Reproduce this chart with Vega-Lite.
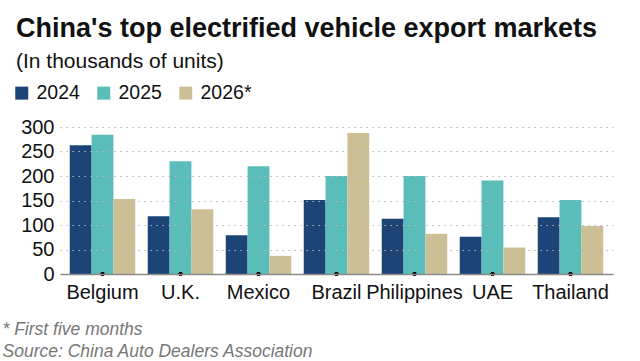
{
  "$schema": "https://vega.github.io/schema/vega-lite/v6.json",
  "width": 553,
  "height": 147,
  "autosize": {"type": "none"},
  "padding": {"left": 60, "top": 127, "right": 27, "bottom": 87},
  "background": "white",
  "config": {
    "font": "Liberation Sans",
    "view": {"stroke": null}
  },
  "title": {
    "text": "China's top electrified vehicle export markets",
    "subtitle": "(In thousands of units)",
    "anchor": "start",
    "frame": "group",
    "dx": -44,
    "fontSize": 27,
    "fontWeight": "bold",
    "color": "#111111",
    "subtitleFontSize": 21,
    "subtitleColor": "#111111",
    "subtitlePadding": 8,
    "offset": 10
  },
  "data": {
    "values": [
      {"country": "Belgium", "year": "2024", "value": 263},
      {"country": "Belgium", "year": "2025", "value": 284},
      {"country": "Belgium", "year": "2026*", "value": 153},
      {"country": "U.K.", "year": "2024", "value": 118},
      {"country": "U.K.", "year": "2025", "value": 230},
      {"country": "U.K.", "year": "2026*", "value": 132},
      {"country": "Mexico", "year": "2024", "value": 79},
      {"country": "Mexico", "year": "2025", "value": 220},
      {"country": "Mexico", "year": "2026*", "value": 37},
      {"country": "Brazil", "year": "2024", "value": 151},
      {"country": "Brazil", "year": "2025", "value": 200},
      {"country": "Brazil", "year": "2026*", "value": 288},
      {"country": "Philippines", "year": "2024", "value": 113},
      {"country": "Philippines", "year": "2025", "value": 200},
      {"country": "Philippines", "year": "2026*", "value": 82},
      {"country": "UAE", "year": "2024", "value": 76},
      {"country": "UAE", "year": "2025", "value": 191},
      {"country": "UAE", "year": "2026*", "value": 54},
      {"country": "Thailand", "year": "2024", "value": 116},
      {"country": "Thailand", "year": "2025", "value": 151},
      {"country": "Thailand", "year": "2026*", "value": 98}
    ]
  },
  "encoding": {
    "x": {
      "field": "country",
      "type": "nominal",
      "sort": null,
      "scale": {"paddingInner": 0.16, "paddingOuter": 0.125},
      "axis": {
        "labelAngle": 0,
        "labelFontSize": 20,
        "labelColor": "#111111",
        "labelPadding": 8,
        "ticks": false,
        "domainColor": "#8a8a8a",
        "domainWidth": 1.5,
        "title": ["* First five months", "Source: China Auto Dealers Association"],
        "titleAnchor": "start",
        "titleAlign": "left",
        "titleBaseline": "alphabetic",
        "titleX": -58,
        "titleY": 60,
        "titleFontSize": 17.5,
        "titleFontStyle": "italic",
        "titleFontWeight": "normal",
        "titleColor": "#777777",
        "titleLineHeight": 22,
        "zindex": 1
      }
    },
    "y": {
      "type": "quantitative",
      "scale": {"domain": [0, 300], "nice": false},
      "axis": {
        "values": [0, 50, 100, 150, 200, 250, 300],
        "labelOverlap": false,
        "title": null,
        "labelFontSize": 20,
        "labelColor": "#111111",
        "labelPadding": 6,
        "ticks": false,
        "domain": false,
        "gridColor": "#b5b5b5",
        "gridDash": [1.5, 4.5],
        "gridWidth": 1.2,
        "zindex": 1
      }
    }
  },
  "layer": [
    {
      "mark": {"type": "bar"},
      "encoding": {
        "xOffset": {"field": "year", "type": "nominal", "scale": {"paddingInner": 0, "paddingOuter": 0}},
        "y": {
          "field": "value",
          "type": "quantitative",
          "scale": {"domain": [0, 300], "nice": false},
          "axis": {
            "values": [0, 50, 100, 150, 200, 250, 300],
            "labelOverlap": false,
            "title": null,
            "labelFontSize": 20,
            "labelColor": "#111111",
            "labelPadding": 6,
            "ticks": false,
            "domain": false,
            "gridColor": "#b5b5b5",
            "gridDash": [1.5, 4.5],
            "gridWidth": 1.2,
            "zindex": 1
          }
        },
        "color": {
          "field": "year",
          "type": "nominal",
          "scale": {"domain": ["2024", "2025", "2026*"], "range": ["#1d4476", "#5bbdb9", "#cdbf95"]},
          "legend": {
            "orient": "none",
            "legendX": -48,
            "legendY": -44,
            "direction": "horizontal",
            "title": null,
            "symbolType": "square",
            "symbolSize": 169,
            "symbolStrokeWidth": 0,
            "labelFontSize": 19.5,
            "labelColor": "#111111",
            "labelOffset": 5,
            "columnPadding": 14
          }
        }
      }
    },
    {
      "mark": {"type": "circle", "color": "#000000", "size": 16, "opacity": 1},
      "encoding": {
        "y": {
          "datum": 0,
          "type": "quantitative",
          "scale": {"domain": [0, 300], "nice": false},
          "axis": {
            "values": [0, 50, 100, 150, 200, 250, 300],
            "labelOverlap": false,
            "title": null,
            "labelFontSize": 20,
            "labelColor": "#111111",
            "labelPadding": 6,
            "ticks": false,
            "domain": false,
            "gridColor": "#b5b5b5",
            "gridDash": [1.5, 4.5],
            "gridWidth": 1.2,
            "zindex": 1
          }
        }
      }
    }
  ]
}
